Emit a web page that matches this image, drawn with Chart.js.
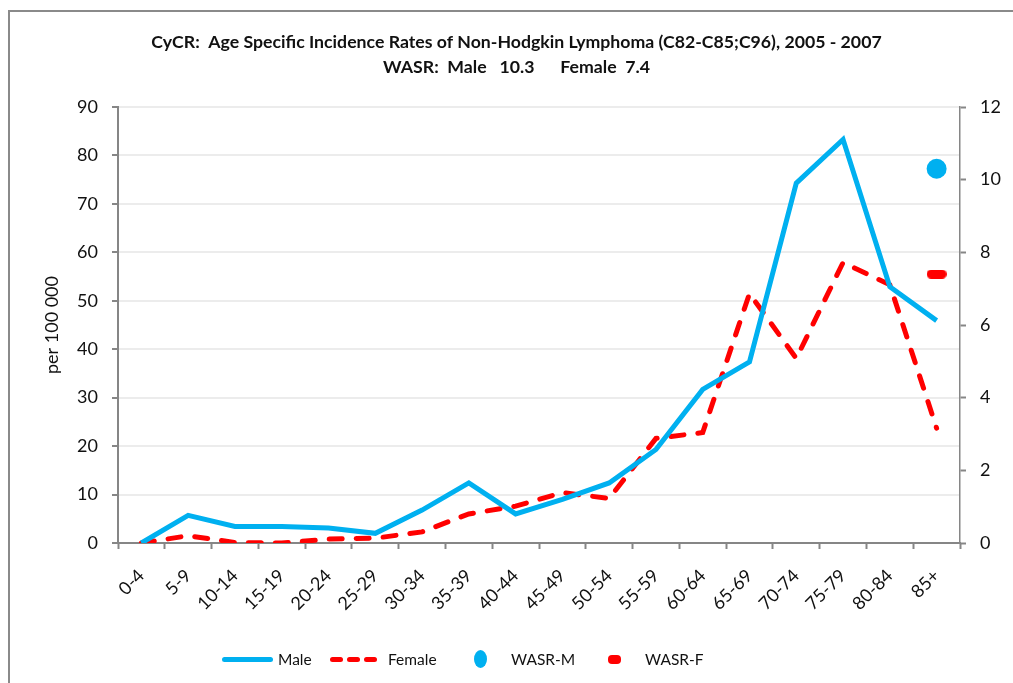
<!DOCTYPE html>
<html>
<head>
<meta charset="utf-8">
<script src="https://cdn.jsdelivr.net/npm/chart.js@4.4.1/dist/chart.umd.min.js"></script>
<style>
  html, body { margin: 0; padding: 0; background: #fff; }
  body { width: 1013px; height: 683px; position: relative; overflow: hidden; font-family: Lato, sans-serif; }
  #frame { position: absolute; left: 8px; top: 10px; width: 1100px; height: 800px; border: 2px solid #8a8a8a; }
  #wrap { position: absolute; left: 0; top: 0; width: 1013px; height: 683px; }
  .lg { position: absolute; }
  .lg-text { position: absolute; top: 649px; font-size: 15.5px; color: #111; line-height: 20px; }
</style>
</head>
<body>
<div id="frame"></div>
<div id="wrap"><canvas id="c" width="1013" height="683"></canvas></div>

<!-- legenda in html: le spaziature dell'originale non sono uniformi -->
<div class="lg" style="left:222px;top:657px;width:51px;height:5px;background:#00b0f0;border-radius:3px"></div>
<div class="lg-text" style="left:278px">Male</div>
<div class="lg" style="left:330px;top:657px;width:13px;height:5px;background:#ff0000;border-radius:3px"></div>
<div class="lg" style="left:347px;top:657px;width:13px;height:5px;background:#ff0000;border-radius:3px"></div>
<div class="lg" style="left:364px;top:657px;width:13px;height:5px;background:#ff0000;border-radius:3px"></div>
<div class="lg-text" style="left:388px">Female</div>
<div class="lg" style="left:474px;top:650px;width:13px;height:18px;background:#00b0f0;border-radius:50%"></div>
<div class="lg-text" style="left:511px">WASR-M</div>
<div class="lg" style="left:608px;top:655px;width:13px;height:9px;background:#ff0000;border-radius:4px"></div>
<div class="lg-text" style="left:645px">WASR-F</div>

<script>
// dati (per 100 000)
const ageGroups = ['0-4', '5-9', '10-14', '15-19', '20-24', '25-29', '30-34', '35-39', '40-44',
                   '45-49', '50-54', '55-59', '60-64', '65-69', '70-74', '75-79', '80-84', '85+'];
const maleRates   = [0, 5.7, 3.4, 3.4, 3.1, 2.0, 6.8, 12.4, 6.0, 9.0, 12.4, 19.3, 31.7, 37.4, 74.3, 83.3, 52.9, 45.9];
const femaleRates = [0, 1.5, 0.1, 0.0, 0.8, 1.0, 2.3, 6.0, 7.6, 10.4, 9.2, 21.6, 22.8, 51.5, 38.1, 57.9, 53.3, 23.7];
const wasrMale   = 10.3;
const wasrFemale = 7.4;
const leftTicks  = [0, 10, 20, 30, 40, 50, 60, 70, 80, 90];
const rightTicks = [0, 2, 4, 6, 8, 10, 12];

const titleLines = [
    'CyCR:  Age Specific Incidence Rates of Non-Hodgkin Lymphoma (C82-C85;C96), 2005 - 2007',
    'WASR:  Male   10.3      Female  7.4'
];

const BLUE = '#00b0f0';
const RED  = '#ff0000';
const AXIS = '#868686';

// WASR solo sull'ultima categoria (85+)
const lastIdx = ageGroups.length - 1;
const wasrMaleData   = ageGroups.map((g, i) => i === lastIdx ? wasrMale : null);
const wasrFemaleData = ageGroups.map((g, i) => i === lastIdx ? wasrFemale : null);

// marker "trattino" arrotondato per WASR-F
const dashMarker = document.createElement('canvas');
dashMarker.width = 20; dashMarker.height = 9;
(function () {
    const g = dashMarker.getContext('2d');
    g.fillStyle = RED;
    g.beginPath();
    g.roundRect(0, 0, 20, 9, 4.5);
    g.fill();
})();

Chart.defaults.font.family = 'Lato, sans-serif';
Chart.defaults.font.size = 18;
Chart.defaults.color = '#111';

const ctx = document.getElementById('c').getContext('2d');
new Chart(ctx, {
    type: 'line',
    data: {
        labels: ageGroups,
        datasets: [
            {
                label: 'Male', data: maleRates, yAxisID: 'y',
                borderColor: BLUE, borderWidth: 5, pointRadius: 0, tension: 0,
                borderJoinStyle: 'miter'
            },
            {
                label: 'Female', data: femaleRates, yAxisID: 'y',
                borderColor: RED, borderWidth: 5, borderDash: [13, 14], borderCapStyle: 'round',
                pointRadius: 0, tension: 0
            },
            {
                label: 'WASR-M', data: wasrMaleData, yAxisID: 'y1', showLine: false,
                pointStyle: 'circle', pointRadius: 10, pointBorderWidth: 0,
                backgroundColor: BLUE, borderColor: BLUE
            },
            {
                label: 'WASR-F', data: wasrFemaleData, yAxisID: 'y1', showLine: false,
                pointStyle: dashMarker, pointRadius: 10,
                backgroundColor: RED, borderColor: RED
            }
        ]
    },
    options: {
        responsive: false,
        animation: false,
        layout: { padding: { left: 20, right: 0, top: 0, bottom: 60 } },
        plugins: {
            legend: { display: false },
            tooltip: { enabled: false },
            title: {
                display: true,
                text: titleLines,
                color: '#111',
                font: { size: 17.7, weight: 'bold', lineHeight: 25 / 17.7 },
                padding: { top: 30, bottom: 27 }
            }
        },
        scales: {
            x: {
                offset: true,
                grid: { offset: true, drawOnChartArea: false, tickLength: 6, tickColor: AXIS, tickWidth: 2 },
                border: { color: AXIS, width: 2 },
                ticks: { autoSkip: false, maxRotation: 45, minRotation: 45, padding: 16 },
                afterFit(scale) { scale.height = 80; }
            },
            y: {
                position: 'left',
                min: 0, max: 90,
                afterBuildTicks(scale) { scale.ticks = leftTicks.map(v => ({ value: v })); },
                grid: { color: '#ececec', lineWidth: 2, tickLength: 6, tickColor: AXIS, tickWidth: 2 },
                border: { color: AXIS, width: 2 },
                ticks: { padding: 14 },
                title: { display: true, text: 'per 100 000', font: { size: 18 }, padding: { top: 21 } },
                afterFit(scale) { scale.width = 98; }
            },
            y1: {
                position: 'right',
                min: 0, max: 12,
                afterBuildTicks(scale) { scale.ticks = rightTicks.map(v => ({ value: v })); },
                grid: { drawOnChartArea: false, tickLength: 6, tickColor: AXIS, tickWidth: 2 },
                border: { color: AXIS, width: 1.5, dash: [5, 4] },
                ticks: { padding: 14 },
                afterFit(scale) { scale.width = 53; }
            }
        }
    }
});
</script>
</body>
</html>
